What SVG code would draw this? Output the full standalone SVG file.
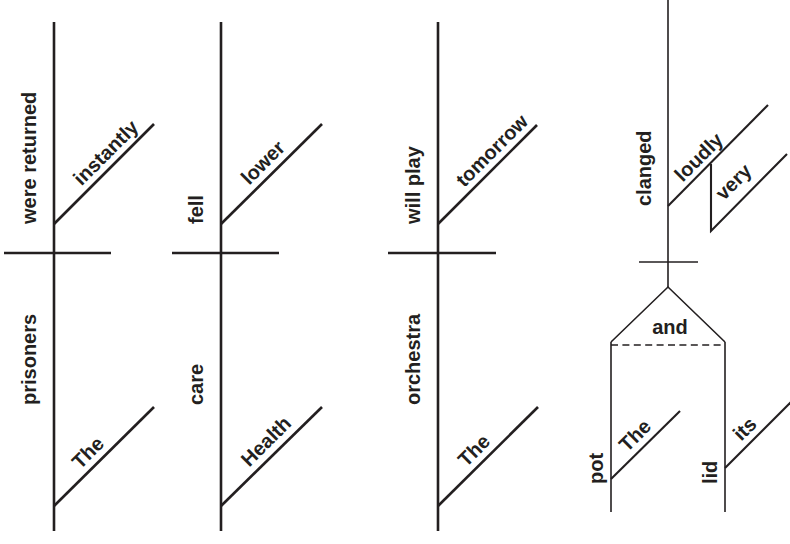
<svg xmlns="http://www.w3.org/2000/svg" width="790" height="544" viewBox="0 0 790 544">
<style>
  .ln{stroke:#231f20;stroke-width:2.6;fill:none;stroke-linecap:butt}
  .th{stroke:#231f20;stroke-width:1.6;fill:none}
  .td{stroke:#231f20;stroke-width:2.1;fill:none}
  .dash{stroke:#231f20;stroke-width:1.7;fill:none;stroke-dasharray:7 4.4}
  text{font-family:"Liberation Sans",Arial,Helvetica,sans-serif;font-weight:bold;font-size:20px;fill:#231f20}
</style>
<rect width="790" height="544" fill="#fff"/>
<g id="connectors">
  <g id="d1-lines">
    <line class="ln" x1="54" y1="22" x2="54" y2="531"/>
    <line class="ln" x1="4" y1="253" x2="111" y2="253"/>
    <line class="ln" x1="54" y1="224" x2="154" y2="124"/>
    <line class="ln" x1="54" y1="506" x2="154" y2="407"/>
  </g>
  <g id="d2-lines">
    <line class="ln" x1="221" y1="22" x2="221" y2="531"/>
    <line class="ln" x1="172" y1="253" x2="279" y2="253"/>
    <line class="ln" x1="221" y1="224" x2="322" y2="124"/>
    <line class="ln" x1="221" y1="506" x2="322" y2="407"/>
  </g>
  <g id="d3-lines">
    <line class="ln" x1="438" y1="22" x2="438" y2="531"/>
    <line class="ln" x1="388" y1="253" x2="496" y2="253"/>
    <line class="ln" x1="438" y1="224" x2="537" y2="125"/>
    <line class="ln" x1="438" y1="506" x2="538" y2="407"/>
  </g>
  <g id="d4-lines">
    <line class="th" x1="668" y1="0" x2="668" y2="287"/>
    <line class="th" x1="639" y1="262" x2="698" y2="262"/>
    <polyline class="th" points="611,342 668,287 725,342"/>
    <line class="dash" x1="611" y1="345" x2="725" y2="345"/>
    <line class="th" x1="611" y1="342" x2="611" y2="512"/>
    <line class="th" x1="725" y1="342" x2="725" y2="512"/>
    <line class="td" x1="668" y1="206" x2="768" y2="105"/>
    <polyline class="td" points="711,164 711,231 787,154"/>
    <line class="td" x1="611" y1="479" x2="680" y2="411"/>
    <line class="td" x1="725" y1="468" x2="795" y2="398"/>
  </g>
</g>
<g id="n-were-returned"><text transform="translate(36,224) rotate(-90)">were returned</text></g>
<g id="n-instantly"><text transform="translate(54,224) rotate(-45)" x="46" y="-7">instantly</text></g>
<g id="n-prisoners"><text transform="translate(36,405) rotate(-90)">prisoners</text></g>
<g id="n-the1"><text transform="translate(54,506) rotate(-45)" x="44" y="-7">The</text></g>
<g id="n-fell"><text transform="translate(203,224) rotate(-90)">fell</text></g>
<g id="n-lower"><text transform="translate(221,224) rotate(-45)" x="47" y="-7">lower</text></g>
<g id="n-care"><text transform="translate(203,405) rotate(-90)">care</text></g>
<g id="n-health"><text transform="translate(221,506) rotate(-45)" x="47" y="-7">Health</text></g>
<g id="n-will-play"><text transform="translate(420,224) rotate(-90)">will play</text></g>
<g id="n-tomorrow"><text transform="translate(438,224) rotate(-45)" x="44" y="-7">tomorrow</text></g>
<g id="n-orchestra"><text transform="translate(420,405) rotate(-90)">orchestra</text></g>
<g id="n-the2"><text transform="translate(438,506) rotate(-45)" x="47" y="-7">The</text></g>
<g id="n-clanged"><text transform="translate(651,206) rotate(-90)">clanged</text></g>
<g id="n-loudly"><text transform="translate(668,206) rotate(-45)" x="27" y="-6">loudly</text></g>
<g id="n-very"><text transform="translate(711,231) rotate(-45)" x="30" y="-12">very</text></g>
<g id="n-and"><text x="670" y="334" text-anchor="middle">and</text></g>
<g id="n-pot"><text transform="translate(603,484) rotate(-90)">pot</text></g>
<g id="n-the3"><text transform="translate(611,479) rotate(-45)" x="30" y="-7">The</text></g>
<g id="n-lid"><text transform="translate(717,484) rotate(-90)">lid</text></g>
<g id="n-its"><text transform="translate(725,468) rotate(-45)" x="30" y="-7">its</text></g>
</svg>
